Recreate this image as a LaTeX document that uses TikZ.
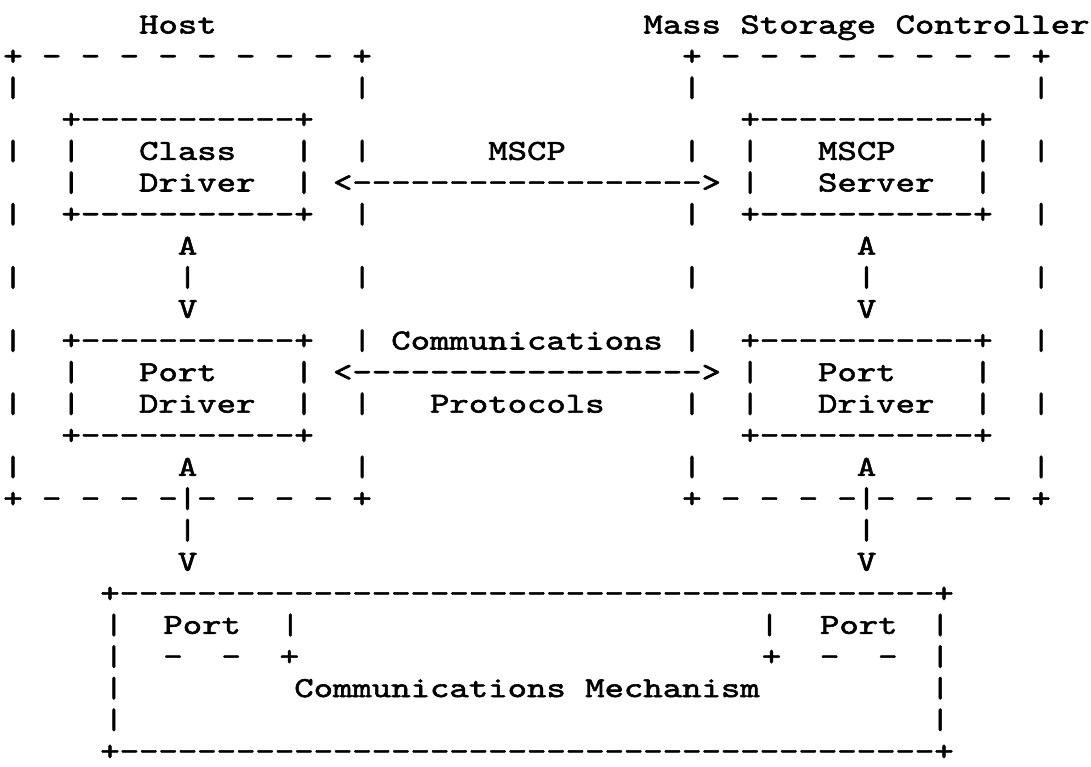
\documentclass[tikz,border=0pt]{standalone}
\usepackage{fontspec}
\setmonofont{lmmono10-regular.otf}[FakeStretch=1.274, FakeBold=2]
\usetikzlibrary{positioning}
\tikzset{ch/.style={font=\ttfamily\fontsize{14.5pt}{16pt}\selectfont,
  anchor=base west, inner sep=0pt, outer sep=0pt}}

\begin{document}
\begin{tikzpicture}[x=9.7pt, y=-15.8pt]
  \useasboundingbox (-0.17,-1.06) rectangle (56.07,23.21);
  % titles
  \node[ch] (host) at (7,0) {Host};
  \node[ch] (msc) at (33,0) {Mass~Storage~Controller};
  % outer frames
  \node[ch] (htop) at (0,1) {+~-~-~-~-~-~-~-~-~+};
  \node[ch] (mtop) at (35,1) {+~-~-~-~-~-~-~-~-~+};
  \foreach \r in {2,4,...,14} {
    \node[ch] (hl\r) at (0,\r) {|};
    \node[ch] (hr\r) at (18,\r) {|};
    \node[ch] (ml\r) at (35,\r) {|};
    \node[ch] (mr\r) at (53,\r) {|};
  }
  \node[ch] (hbot) at (0,15) {+~-~-~-~-|-~-~-~-~+};
  \node[ch] (mbot) at (35,15) {+~-~-~-~-|-~-~-~-~+};
  % inner boxes
  \foreach \x/\n in {3/h,38/m} {
    \foreach \r in {3,6,10,13}
      \node[ch] (\n box\r) at (\x,\r) {+-----------+};
    \foreach \r in {4,5,11,12} {
      \node[ch] (\n lw\r) at (\x,\r) {|};
      \node[ch] (\n rw\r) at (\x+12,\r) {|};
    }
  }
  \node[ch] (cls1) at (7,4) {Class};
  \node[ch] (cls2) at (7,5) {Driver};
  \node[ch] (hport1) at (7,11) {Port};
  \node[ch] (hport2) at (7,12) {Driver};
  \node[ch] (srv1) at (42,4) {MSCP};
  \node[ch] (srv2) at (42,5) {Server};
  \node[ch] (mport1) at (42,11) {Port};
  \node[ch] (mport2) at (42,12) {Driver};
  % up/down arrows
  \foreach \x in {9,44} {
    \node[ch] (up7\x) at (\x,7) {A};
    \node[ch] (st8\x) at (\x,8) {|};
    \node[ch] (dn9\x) at (\x,9) {V};
    \node[ch] (up14\x) at (\x,14) {A};
    \node[ch] (st16\x) at (\x,16) {|};
    \node[ch] (dn17\x) at (\x,17) {V};
  }
  % protocol arrows
  \node[ch] (mscp) at (25,4) {MSCP};
  \node[ch] (arr5) at (17,5) {<------------------>};
  \node[ch] (comm) at (20,10) {Communications};
  \node[ch] (arr11) at (17,11) {<------------------>};
  \node[ch] (proto) at (22,12) {Protocols};
  % communications mechanism
  \node[ch] (mtop18) at (5,18) {+------------------------------------------+};
  \node[ch] (mbot23) at (5,23) {+------------------------------------------+};
  \foreach \r in {19,...,22} {
    \node[ch] (cl\r) at (5.2,\r) {|};
    \node[ch] (cr\r) at (47.8,\r) {|};
  }
  \node[ch] (lport) at (8.25,19) {Port};
  \node[ch] (lpw) at (14.3,19) {|};
  \node[ch] (lpb) at (8.25,20) {-~~-~~+};
  \node[ch] (rpw) at (39,19) {|};
  \node[ch] (rport) at (42.1,19) {Port};
  \node[ch] (rpb) at (39.1,20) {+~~-~~-};
  \node[ch] (cmech) at (15,21) {Communications~Mechanism};
\end{tikzpicture}
\end{document}
